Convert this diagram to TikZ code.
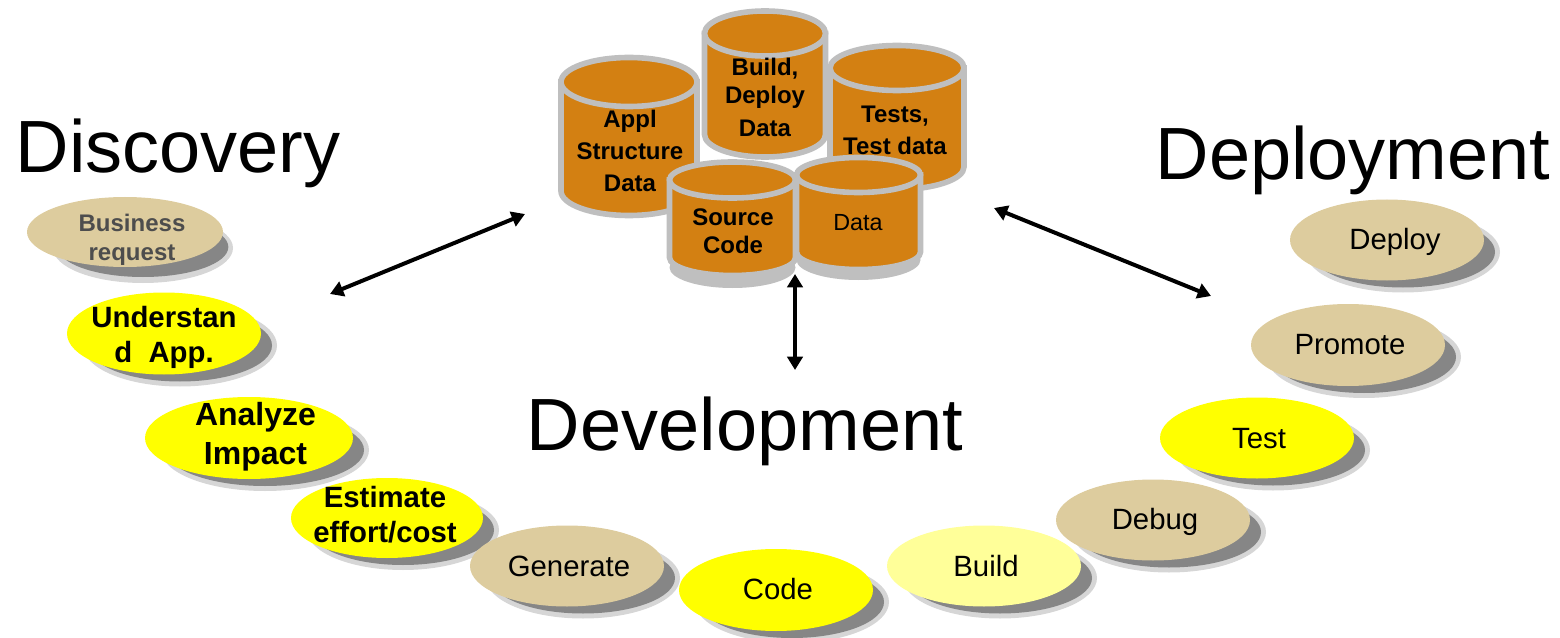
\documentclass[tikz,border=0pt]{standalone}
\usepackage{fontspec}
\setmainfont{Liberation Sans}
\usetikzlibrary{shapes.geometric,arrows.meta}
\definecolor{tan}{HTML}{DDCC9E}
\definecolor{yel}{HTML}{FFFF00}
\definecolor{lyel}{HTML}{FFFF99}
\definecolor{orng}{HTML}{D38012}
\definecolor{cylgray}{HTML}{BFBFBF}
\definecolor{shlight}{HTML}{D6D6D6}
\definecolor{shdark}{HTML}{868686}
\definecolor{dimtext}{HTML}{4D4D4D}
\tikzset{
  x=0.75pt,y=-0.75pt,
  oval/.style={ellipse,inner sep=0pt},
  biglabel/.style={font=\fontsize{55.5}{60}\selectfont,anchor=base,inner sep=0pt},
  lbl/.style={inner sep=0pt,align=center,text=black},
  boldA/.style={lbl,font=\fontsize{18}{24}\selectfont\bfseries},
  boldB/.style={lbl,font=\fontsize{22}{26}\selectfont\bfseries},
  boldC/.style={lbl,font=\fontsize{24}{29.25}\selectfont\bfseries},
  plainA/.style={lbl,font=\fontsize{22}{26}\selectfont},
  link/.style={line width=3pt,black,{Triangle[length=10pt,width=11.5pt]}-{Triangle[length=10pt,width=11.5pt]}},
}
% name, cx, cy, rx, ry, fill
\newcommand{\ovalnode}[6]{%
  \node[oval,fill=shlight,minimum width={(#4)*1.5pt},minimum height={(#5)*1.5pt}] (#1s) at (#2+16,#3+12) {};
  \node[oval,fill=shdark,minimum width={(#4-5)*1.5pt},minimum height={(#5-5)*1.5pt}] (#1d) at (#2+16,#3+12) {};
  \node[oval,fill=#6,minimum width={(#4)*1.5pt},minimum height={(#5)*1.5pt}] (#1) at (#2,#3) {};
}
% cx, top y, bottom y, rx, ry, base shift
\newcommand{\cylshape}[6]{%
  \ifnum#6>0
    \fill[cylgray] (#1,#3+#6) ellipse [x radius=#4,y radius=#5+2.5];
  \fi
  \draw[line width=4.2pt,cylgray,fill=orng]
    (#1-#4,#2) -- (#1-#4,#3) arc[start angle=180,end angle=0,x radius=#4,y radius=#5] -- (#1+#4,#2) -- cycle;
  \draw[line width=4.2pt,cylgray,fill=orng] (#1,#2) ellipse [x radius=#4,y radius=#5];
}
\begin{document}
\begin{tikzpicture}
\useasboundingbox (0,0) rectangle (1560,638);

% databases
\cylshape{629}{82}{191}{68}{24.5}{0}
\cylshape{897}{68}{167}{67}{22.5}{0}
\cylshape{765}{33.5}{134.5}{60.5}{22.5}{0}
\cylshape{732.5}{180}{257.5}{63}{18}{10}
\cylshape{858.5}{175}{252}{62}{17.5}{8}

\node[boldA] (appl) at (630,151) {Appl\\Structure\\Data};
\node[boldA] (bdd) at (765,97) {Build,\\[-3pt]Deploy\\[0.75pt]Data};
\node[boldA] (tests) at (895,130) {Tests,\\Test data};
\node[boldA] (src) at (733,231) {Source\\[-3pt]Code};
\node[lbl,font=\fontsize{17.5}{22}\selectfont] (data) at (858,223) {Data};

% headings
\node[biglabel] (disc) at (178,173) {Discovery};
\node[biglabel] (depl) at (1353,180) {Deployment};
\node[biglabel] (devl) at (745,450) {Development};

% activities
\node[oval,fill=shlight,minimum width=135pt,minimum height=52.5pt] (bizs) at (143,248) {};
\node[oval,fill=shdark,minimum width=128pt,minimum height=45pt] (bizd) at (143,247) {};
\node[oval,fill=tan,minimum width=147pt,minimum height=52.5pt] (biz) at (125,232) {};
\ovalnode{und}{164}{333.5}{97}{41}{yel}
\ovalnode{ana}{249}{438}{104}{41}{yel}
\ovalnode{est}{387}{518}{96}{40}{yel}
\ovalnode{gen}{567}{566}{97}{40.5}{tan}
\ovalnode{code}{776}{590}{97}{41}{yel}
\ovalnode{bld}{984}{566}{97}{40.5}{lyel}
\ovalnode{dbg}{1153}{520}{97}{40.5}{tan}
\ovalnode{tst}{1257}{438}{97}{40.5}{yel}
\ovalnode{prm}{1348}{345}{97}{41}{tan}
\ovalnode{dpl}{1387}{240}{97}{40.5}{tan}

\node[boldA,text=dimtext] (tbiz) at (132,240) {Business\\[-2.25pt]request};
\node[boldB] (tund) at (164,337.5) {Understan\\d\ \ App.};
\node[boldC] (tana) at (255.5,436.5) {Analyze\\Impact};
\node[boldB] (test) at (385,514.5) {Estimate\\effort/cost};
\node[plainA] (tgen) at (569,566) {Generate};
\node[plainA] (tcode) at (778,589) {Code};
\node[plainA] (tbld) at (986,566) {Build};
\node[plainA] (tdbg) at (1155,522) {Debug};
\node[plainA] (ttst) at (1259,439) {Test};
\node[plainA] (tprm) at (1350,345) {Promote};
\node[plainA] (tdpl) at (1395,242) {Deploy};

% connectors
\coordinate (a1) at (330,294);
\coordinate (a2) at (525,214);
\coordinate (b1) at (795,274);
\coordinate (b2) at (795,370);
\coordinate (c1) at (994,208);
\coordinate (c2) at (1211,296);
\draw[link] (a1) -- (a2);
\draw[link] (b1) -- (b2);
\draw[link] (c1) -- (c2);
\end{tikzpicture}
\end{document}
